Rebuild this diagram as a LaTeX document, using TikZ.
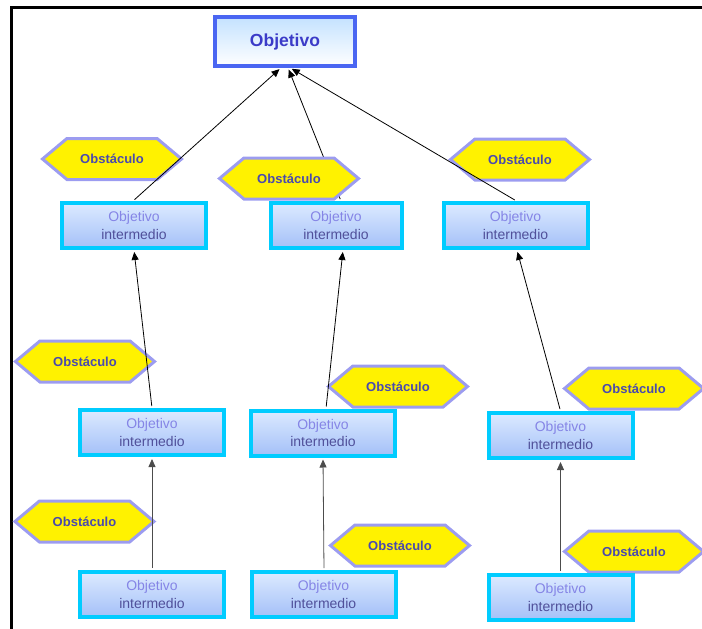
\documentclass[tikz,border=0pt]{standalone}
\usepackage{fontspec}
\setmainfont{Liberation Sans}
\usetikzlibrary{shapes.symbols,arrows.meta}

\definecolor{goalblue}{HTML}{4A66F2}
\definecolor{goaltop}{HTML}{C4E2FF}
\definecolor{goaltext}{HTML}{3B3BC8}
\definecolor{boxcyan}{HTML}{00CCFF}
\definecolor{boxtop}{HTML}{DCEAFF}
\definecolor{boxbot}{HTML}{A4C0F8}
\definecolor{lineone}{HTML}{8585E6}
\definecolor{linetwo}{HTML}{50509A}
\definecolor{hexedge}{HTML}{9C9CF0}
\definecolor{hexfill}{HTML}{FFF200}
\definecolor{hextext}{HTML}{4A4AAE}

\tikzset{
  goal/.style={draw=goalblue, line width=3.5pt, top color=goaltop, bottom color=white,
    minimum width=140pt, minimum height=49pt, inner sep=0pt, text=goaltext,
    font=\fontsize{17.5}{20}\selectfont\bfseries},
  interbox/.style={draw=boxcyan, line width=4pt, top color=boxtop, middle color=white,
    bottom color=boxbot, minimum width=144pt, minimum height=45pt, inner sep=0pt,
    align=center, font=\fontsize{14}{17.5}\selectfont},
  obst/.style={shape=signal, signal to=west and east, signal pointer angle=80,
    draw=hexedge, line width=3pt, fill=hexfill, minimum width=139pt, minimum height=41pt,
    inner sep=0pt, text=hextext, font=\fontsize{13}{15}\selectfont\bfseries},
  link/.style={-{Triangle[length=8pt,width=7pt]}, line width=0.8pt, black,
    shorten <=2pt, shorten >=2pt},
  vlink/.style={link, draw=black!70},
}
\newcommand{\inter}{{\color{lineone}Objetivo}\\{\color{linetwo}intermedio}}

\begin{document}
\begin{tikzpicture}[x=1pt, y=-1pt]
\useasboundingbox (0,0) rectangle (702,629);

% frame on the top and left sides
\draw[line width=3pt] (11.5,629) -- (11.5,7.5) -- (702,7.5);

% main goal
\node[goal] (goal) at (285,41.5) {Objetivo};

% obstacles
\node[obst] (h1) at (112,159) {Obstáculo};
\node[obst] (h3) at (520,159.5) {Obstáculo};
\node[obst] (h4) at (85,361.5) {Obstáculo};
\node[obst] (h5) at (398,386.5) {Obstáculo};
\node[obst] (h6) at (634,388.5) {Obstáculo};
\node[obst] (h7) at (84.5,521.5) {Obstáculo};
\node[obst] (h8) at (400,545.5) {Obstáculo};
\node[obst] (h9) at (634,551.5) {Obstáculo};

% intermediate goals
\node[interbox] (a1) at (134,225.5) {\inter};
\node[interbox, minimum width=131pt] (a2) at (336,225.5) {\inter};
\node[interbox] (a3) at (515.5,225.5) {\inter};
\node[interbox] (b1) at (152,432.5) {\inter};
\node[interbox] (b2) at (323,433) {\inter};
\node[interbox] (b3) at (560.5,435.5) {\inter};
\node[interbox] (c1) at (152,594.5) {\inter};
\node[interbox] (c2) at (323.5,594.5) {\inter};
\node[interbox] (c3) at (560.5,597.5) {\inter};

% connections
\draw[link] ([xshift=-1pt]a1.north) -- ([xshift=-4pt]goal.south);
\draw[link] ([xshift=5pt]a2.north) -- ([xshift=3pt]goal.south);
\draw[link] ([xshift=1pt]a3.north) -- ([xshift=5pt]goal.south);
\draw[link] (b1.north) -- (a1.south);
\draw[link] ([xshift=3pt]b2.north) -- ([xshift=7pt]a2.south);
\draw[link] (b3.north) -- ([xshift=1.5pt]a3.south);
\draw[vlink] (c1.north) -- (b1.south);
\draw[vlink] ([xshift=0.5pt]c2.north) -- (b2.south);
\draw[vlink] (c3.north) -- (b3.south);

% this obstacle sits over its connection
\node[obst] (h2) at (289,178.5) {Obstáculo};
\end{tikzpicture}
\end{document}
